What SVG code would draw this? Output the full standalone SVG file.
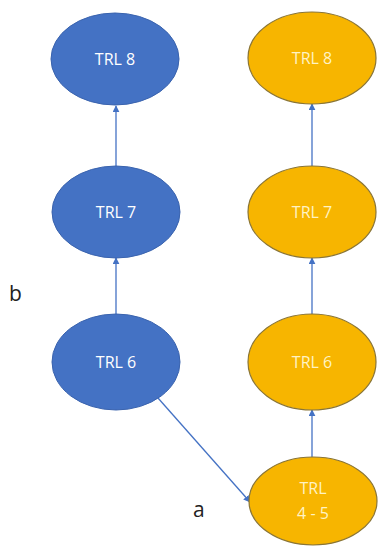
<svg xmlns="http://www.w3.org/2000/svg" width="379" height="547" viewBox="0 0 379 547">
<style>
.b{fill:#4472C4;stroke:#3A63AE;stroke-width:1}
.o{fill:#F7B500;stroke:#8A7536;stroke-width:1.2}
.t{font-family:"Open Sans","Liberation Sans",sans-serif;font-size:16px;fill:#fff;text-anchor:middle}
.to{fill:#FFF3C4}
.c{stroke:#4472C4;stroke-width:1.3;fill:none;marker-end:url(#ah)}
.l{font-family:"Open Sans","Liberation Sans",sans-serif;font-size:21px;fill:#222}
</style>
<defs>
<marker id="ah" viewBox="0 0 10 10" refX="9" refY="5" markerWidth="7" markerHeight="7" orient="auto" markerUnits="userSpaceOnUse">
<path d="M0,0 L10,5 L0,10 z" fill="#4472C4"/>
</marker>
</defs>
<rect width="379" height="547" fill="#fff"/>
<g id="connectors">
<line class="c" x1="116" y1="166" x2="116" y2="106"/>
<line class="c" x1="116" y1="315" x2="116" y2="258"/>
<line class="c" x1="312" y1="166" x2="312" y2="104"/>
<line class="c" x1="312" y1="315" x2="312" y2="258"/>
<line class="c" x1="312" y1="457" x2="312" y2="410"/>
<line class="c" x1="158" y1="398" x2="250" y2="502"/>
</g>
<g id="b8"><ellipse class="b" cx="115" cy="59" rx="64" ry="46"/><text class="t" x="115" y="65">TRL 8</text></g>
<g id="b7"><ellipse class="b" cx="116" cy="212" rx="64" ry="46"/><text class="t" x="116" y="218">TRL 7</text></g>
<g id="b6"><ellipse class="b" cx="116" cy="362" rx="64" ry="48"/><text class="t" x="116" y="368">TRL 6</text></g>
<g id="o8"><ellipse class="o" cx="312" cy="58" rx="64" ry="46"/><text class="t to" x="312" y="64">TRL 8</text></g>
<g id="o7"><ellipse class="o" cx="312" cy="212" rx="64" ry="46"/><text class="t to" x="312" y="218">TRL 7</text></g>
<g id="o6"><ellipse class="o" cx="312" cy="362" rx="64" ry="48"/><text class="t to" x="312" y="368">TRL 6</text></g>
<g id="o45"><ellipse class="o" cx="313" cy="501" rx="64" ry="44"/><text class="t to" x="313" y="494">TRL</text><text class="t to" x="313" y="519">4 - 5</text></g>
<text class="l" x="9" y="301">b</text>
<text class="l" x="193" y="517">a</text>
</svg>
